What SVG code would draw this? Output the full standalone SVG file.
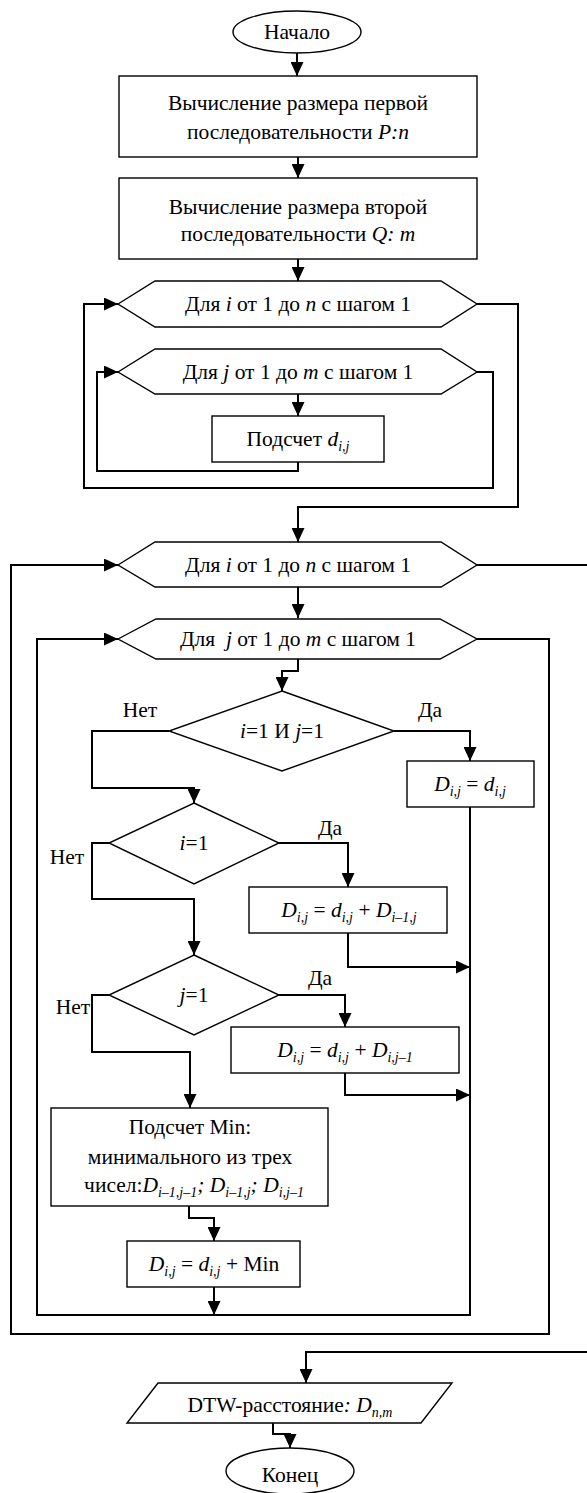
<svg xmlns="http://www.w3.org/2000/svg" width="587" height="1493" viewBox="0 0 587 1493" font-family="'Liberation Serif', 'DejaVu Serif', serif">
  <style>
    .shape { fill: #fff; stroke: #000; stroke-width: 1.4; }
    .conn { fill: none; stroke: #000; stroke-width: 2; marker-end: url(#arrow); }
    text { font-family: 'Liberation Serif', 'DejaVu Serif', serif; font-size: 21.5px; fill: #000; text-anchor: middle; }
    .i { font-style: italic; }
    .s { font-style: italic; font-size: 14px; }
  </style>
  <defs>
    <marker id="arrow" markerUnits="userSpaceOnUse" markerWidth="14" markerHeight="13" refX="14" refY="6.5" orient="auto">
      <path d="M0,0 L14,6.5 L0,13 z" fill="#000"/>
    </marker>
  </defs>
  <rect width="587" height="1493" fill="#fff"/>

  <!-- connectors -->
  <g id="connectors">
    <path class="conn" d="M297,53 V76"/>
    <path class="conn" d="M298,157 V178"/>
    <path class="conn" d="M298,259 V281"/>
    <path class="conn" d="M298,394 V416"/>
    <path class="conn" d="M298,462 V471 H97 V372 H118"/>
    <path class="conn" d="M477,372 H493 V488 H84 V304 H118"/>
    <path class="conn" d="M477,304 H518 V507 H298 V542"/>
    <path class="conn" d="M298,587 V618"/>
    <path class="conn" d="M298,659 V671 H282 V691"/>
    <path class="conn" d="M394,731 H470 V761"/>
    <path class="conn" d="M169,731 H92 V788 H194 V803"/>
    <path class="conn" d="M279,843 H348 V887"/>
    <path class="conn" d="M348,933 V967 H470"/>
    <path class="conn" d="M109,843 H92 V899 H194 V955"/>
    <path class="conn" d="M279,995 H345 V1027"/>
    <path class="conn" d="M345,1073 V1095 H470"/>
    <path class="conn" d="M109,995 H92 V1052 H190 V1108"/>
    <path class="conn" d="M189,1206 V1218 H214 V1241"/>
    <path class="conn" d="M214,1287 V1315"/>
    <path class="conn" d="M470,807 V1315 H37 V639 H118"/>
    <path class="conn" d="M477,639 H549 V1334 H11 V565 H118"/>
    <path class="conn" d="M477,565 H592 V1352 H306 V1383"/>
    <path class="conn" d="M273,1423 V1434 H290 V1448"/>
  </g>

  <!-- start -->
  <g id="start">
    <ellipse class="shape" cx="297" cy="32" rx="64" ry="21"/>
    <text x="297" y="39">Начало</text>
  </g>

  <g id="size-p">
    <rect class="shape" x="119" y="76" width="358" height="81"/>
    <text x="298" y="110">Вычисление размера первой</text>
    <text x="298" y="139">последовательности <tspan class="i">P:n</tspan></text>
  </g>

  <g id="size-q">
    <rect class="shape" x="119" y="178" width="358" height="81"/>
    <text x="298" y="214">Вычисление размера второй</text>
    <text x="298" y="241">последовательности <tspan class="i">Q: m</tspan></text>
  </g>

  <g id="loop-i-1">
    <polygon class="shape" points="118,304 155,281 441,281 477,304 441,327 155,327"/>
    <text x="298" y="311">Для <tspan class="i">i</tspan> от 1 до <tspan class="i">n</tspan> с шагом 1</text>
  </g>

  <g id="loop-j-1">
    <polygon class="shape" points="118,372 155,349 441,349 477,372 441,394 155,394"/>
    <text x="298" y="379">Для <tspan class="i">j</tspan> от 1 до <tspan class="i">m</tspan> с шагом 1</text>
  </g>

  <g id="calc-d">
    <rect class="shape" x="212" y="416" width="172" height="46"/>
    <text x="298" y="446">Подсчет <tspan class="i">d</tspan><tspan class="s" dy="5">i,j</tspan></text>
  </g>

  <g id="loop-i-2">
    <polygon class="shape" points="118,565 155,542 441,542 477,565 441,587 155,587"/>
    <text x="298" y="572">Для <tspan class="i">i</tspan> от 1 до <tspan class="i">n</tspan> с шагом 1</text>
  </g>

  <g id="loop-j-2">
    <polygon class="shape" points="118,639 156,619 440,619 477,639 440,659 156,659"/>
    <text x="298" y="646" xml:space="preserve">Для  <tspan class="i">j</tspan> от 1 до <tspan class="i">m</tspan> с шагом 1</text>
  </g>

  <g id="cond-both">
    <polygon class="shape" points="282,691 394,731 282,771 169,731"/>
    <text x="282" y="738"><tspan class="i">i</tspan>=1 И <tspan class="i">j</tspan>=1</text>
    <text x="140" y="717">Нет</text>
    <text x="430" y="717">Да</text>
  </g>

  <g id="set-first">
    <rect class="shape" x="407" y="761" width="127" height="46"/>
    <text x="470" y="791"><tspan class="i">D</tspan><tspan class="s" dy="5">i,j</tspan><tspan dy="-5"> = </tspan><tspan class="i">d</tspan><tspan class="s" dy="5">i,j</tspan></text>
  </g>

  <g id="cond-i">
    <polygon class="shape" points="194,803 279,843 194,884 109,843"/>
    <text x="194" y="850"><tspan class="i">i</tspan>=1</text>
    <text x="330" y="835">Да</text>
    <text x="67" y="864">Нет</text>
  </g>

  <g id="set-row">
    <rect class="shape" x="249" y="887" width="198" height="46"/>
    <text x="349" y="917"><tspan class="i">D</tspan><tspan class="s" dy="5">i,j</tspan><tspan dy="-5"> = </tspan><tspan class="i">d</tspan><tspan class="s" dy="5">i,j</tspan><tspan dy="-5"> + </tspan><tspan class="i">D</tspan><tspan class="s" dy="5">i–1,j</tspan></text>
  </g>

  <g id="cond-j">
    <polygon class="shape" points="194,955 279,995 194,1035 109,995"/>
    <text x="194" y="1002"><tspan class="i">j</tspan>=1</text>
    <text x="320" y="985">Да</text>
    <text x="73" y="1014">Нет</text>
  </g>

  <g id="set-col">
    <rect class="shape" x="231" y="1027" width="228" height="46"/>
    <text x="345" y="1057"><tspan class="i">D</tspan><tspan class="s" dy="5">i,j</tspan><tspan dy="-5"> = </tspan><tspan class="i">d</tspan><tspan class="s" dy="5">i,j</tspan><tspan dy="-5"> + </tspan><tspan class="i">D</tspan><tspan class="s" dy="5">i,j–1</tspan></text>
  </g>

  <g id="calc-min">
    <rect class="shape" x="51" y="1108" width="277" height="98"/>
    <text x="190" y="1134">Подсчет Min:</text>
    <text x="190" y="1164">минимального из трех</text>
    <text x="194" y="1192">чисел:<tspan class="i">D</tspan><tspan class="s" dy="5">i–1,j–1</tspan><tspan class="i" dy="-5">; D</tspan><tspan class="s" dy="5">i–1,j</tspan><tspan class="i" dy="-5">; D</tspan><tspan class="s" dy="5">i,j–1</tspan></text>
  </g>

  <g id="set-min">
    <rect class="shape" x="127" y="1241" width="173" height="46"/>
    <text x="214" y="1271"><tspan class="i">D</tspan><tspan class="s" dy="5">i,j</tspan><tspan dy="-5"> = </tspan><tspan class="i">d</tspan><tspan class="s" dy="5">i,j</tspan><tspan dy="-5"> + Min</tspan></text>
  </g>

  <g id="output">
    <polygon class="shape" points="158,1383 452,1383 421,1423 127,1423"/>
    <text x="290" y="1412">DTW-расстояние<tspan class="i">: D</tspan><tspan class="s" dy="5">n,m</tspan></text>
  </g>

  <g id="end">
    <ellipse class="shape" cx="290" cy="1471" rx="64" ry="23"/>
    <text x="290" y="1482">Конец</text>
  </g>
</svg>
